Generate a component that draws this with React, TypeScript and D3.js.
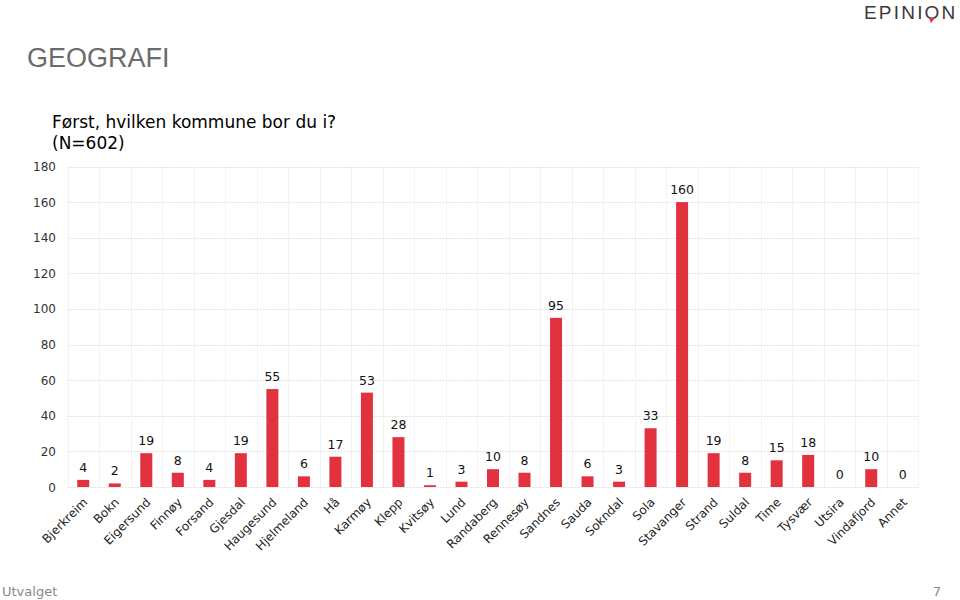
import React from "react";
import * as d3 from "d3";

const categories = ["Bjerkreim","Bokn","Eigersund","Finnøy","Forsand","Gjesdal","Haugesund","Hjelmeland","Hå","Karmøy","Klepp","Kvitsøy","Lund","Randaberg","Rennesøy","Sandnes","Sauda","Sokndal","Sola","Stavanger","Strand","Suldal","Time","Tysvær","Utsira","Vindafjord","Annet"];
const values = [4,2,19,8,4,19,55,6,17,53,28,1,3,10,8,95,6,3,33,160,19,8,15,18,0,10,0];
const yTicks = [0,20,40,60,80,100,120,140,160,180];

const W = 960, H = 600;
const left = 67.5, right = 918.5, top = 166.5, bottom = 487;

export default function App() {
  const x = d3.scaleBand<string>().domain(categories).range([left, right]).paddingInner(0).paddingOuter(0);
  const y = d3.scaleLinear().domain([0, 180]).range([bottom, top]);
  const bw = 12;
  const font = "'DejaVu Sans', Verdana, sans-serif";
  return (
    <svg width={W} height={H} style={{ position: "absolute", left: 0, top: 0, background: "#fff" }}>
      {/* logo */}
      <text x={864} y={19} fontFamily="'Liberation Sans', Arial, sans-serif" fontSize={19} fill="#3a3a3a" letterSpacing={2.2}>EPINION</text>
      <path d="M929,18 l2,5 l4,-5 z" fill="#e8323f" />
      <text x={27} y={67} fontFamily="'Liberation Sans', Arial, sans-serif" fontSize={27} fill="#6b6b6b">GEOGRAFI</text>
      <text x={52} y={128} fontFamily={font} fontSize={17} fill="#000">Først, hvilken kommune bor du i?</text>
      <text x={52} y={149} fontFamily={font} fontSize={17} fill="#000">(N=602)</text>
      {/* grid */}
      {yTicks.map(t => (
        <line key={"h"+t} x1={left} x2={right} y1={Math.round(y(t)) + 0.5} y2={Math.round(y(t)) + 0.5} stroke="#e3e3e3" strokeDasharray="2,1" />
      ))}
      {categories.map((c) => (
        <line key={"v"+c} x1={Math.round(x(c)!) + 0.5} x2={Math.round(x(c)!) + 0.5} y1={y(180)} y2={bottom} stroke="#ececec" strokeDasharray="2,1" />
      ))}
      <line x1={right} x2={right} y1={y(180)} y2={bottom} stroke="#ececec" strokeDasharray="2,1" />
      {yTicks.map(t => (
        <text key={"yl"+t} x={56} y={y(t) + 4.5} textAnchor="end" fontFamily={font} fontSize={12} fill="#333">{t}</text>
      ))}
      {categories.map((c, i) => {
        const cx = x(c)! + x.bandwidth() / 2;
        const v = values[i];
        return (
          <g key={c}>
            {v > 0 && <rect x={cx - bw / 2} y={y(v)} width={bw} height={bottom - y(v)} fill="#e3323f" />}
            <text x={cx} y={y(v) - 8} textAnchor="middle" fontFamily={font} fontSize={12.5} fill="#111">{v}</text>
            <text transform={`translate(${cx + 5},${bottom + 16}) rotate(-45)`} textAnchor="end" fontFamily={font} fontSize={12} fill="#222">{c}</text>
          </g>
        );
      })}
      <text x={2} y={596} fontFamily={font} fontSize={13} fill="#888">Utvalget</text>
      <text x={941} y={596} textAnchor="end" fontFamily={font} fontSize={13} fill="#888">7</text>
    </svg>
  );
}
